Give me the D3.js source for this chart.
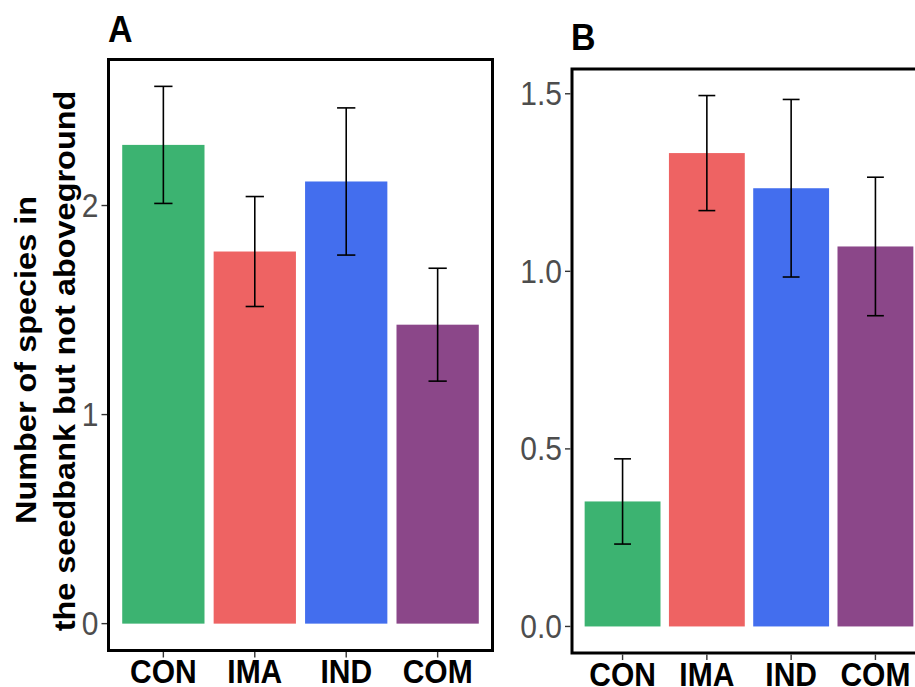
<!DOCTYPE html>
<html>
<head>
<meta charset="utf-8">
<script src="https://cdn.jsdelivr.net/npm/d3@7"></script>
<style>
  html, body { margin: 0; padding: 0; background: #fff; }
  svg { display: block; font-family: "Liberation Sans", Arial, sans-serif; }
</style>
</head>
<body>
<svg id="chart" width="915" height="687"></svg>
<script>
// ---- data ----
const categories = ["CON", "IMA", "IND", "COM"];
const colors = ["#3CB371", "#EE6363", "#436EEE", "#8B4789"];

const meanA = [2.29, 1.78, 2.115, 1.43];
const seA   = [0.28, 0.263, 0.352, 0.27];
const ticksA = [0, 1, 2];
const tickLabelsA = ["0", "1", "2"];

const meanB = [0.352, 1.333, 1.234, 1.07];
const seB   = [0.12, 0.162, 0.25, 0.195];
const ticksB = [0, 0.5, 1.0, 1.5];
const tickLabelsB = ["0.0", "0.5", "1.0", "1.5"];

const yTitle = ["Number of species in", "the seedbank but not aboveground"];

// ---- drawing ----
const svg = d3.select("#chart");
const SY = 1.1; // vertical text stretch seen in the reference

function stretchedText(parent, x, y, str, opts) {
  const g = parent.append("g").attr("transform", `translate(${x},${y}) scale(1,${SY})` + (opts.rotate ? ` rotate(${opts.rotate})` : ""));
  g.append("text")
    .attr("x", 0).attr("y", 0)
    .attr("text-anchor", opts.anchor || "start")
    .attr("font-size", opts.size)
    .attr("font-weight", opts.bold ? "bold" : "normal")
    .attr("fill", opts.fill || "#000")
    .text(str);
  return g;
}

function panel(cfg) {
  const { left, right, top, bottom, means, ses, ticks, tickLabels, label, labelX, labelY } = cfg;
  const g = svg.append("g");

  const x = d3.scaleBand().domain(categories).range([left, right])
    .paddingInner(0.1).paddingOuter(0.15).align(0.5);
  const maxV = d3.max(means.map((m, i) => m + ses[i]));
  const y = d3.scaleLinear().domain([-0.05 * maxV, 1.05 * maxV]).range([bottom, top]);

  // bars
  g.selectAll("rect.bar").data(categories).join("rect")
    .attr("class", "bar")
    .attr("x", d => x(d))
    .attr("width", x.bandwidth())
    .attr("y", (d, i) => y(means[i]))
    .attr("height", (d, i) => y(0) - y(means[i]))
    .attr("fill", (d, i) => colors[i]);

  // error bars
  const capW = x.step() * 0.2;
  const eb = g.selectAll("g.eb").data(categories).join("g").attr("class", "eb")
    .attr("stroke", "#000").attr("stroke-width", 1.6).attr("fill", "none");
  eb.append("line")
    .attr("x1", d => x(d) + x.bandwidth() / 2).attr("x2", d => x(d) + x.bandwidth() / 2)
    .attr("y1", (d, i) => y(means[i] + ses[i])).attr("y2", (d, i) => y(means[i] - ses[i]));
  eb.append("line")
    .attr("x1", d => x(d) + x.bandwidth() / 2 - capW / 2).attr("x2", d => x(d) + x.bandwidth() / 2 + capW / 2)
    .attr("y1", (d, i) => y(means[i] + ses[i])).attr("y2", (d, i) => y(means[i] + ses[i]));
  eb.append("line")
    .attr("x1", d => x(d) + x.bandwidth() / 2 - capW / 2).attr("x2", d => x(d) + x.bandwidth() / 2 + capW / 2)
    .attr("y1", (d, i) => y(means[i] - ses[i])).attr("y2", (d, i) => y(means[i] - ses[i]));

  // frame
  g.append("rect")
    .attr("x", left).attr("y", top)
    .attr("width", right - left).attr("height", bottom - top)
    .attr("fill", "none").attr("stroke", "#000").attr("stroke-width", 3);

  // y ticks
  ticks.forEach((t, i) => {
    g.append("line")
      .attr("x1", left - 7).attr("x2", left - 1.5)
      .attr("y1", y(t)).attr("y2", y(t))
      .attr("stroke", "#333").attr("stroke-width", 1.4);
    stretchedText(g, left - 10, y(t) + 11.5, tickLabels[i], { size: 30, anchor: "end", fill: "#4D4D4D" });
  });

  // x ticks + labels
  categories.forEach(c => {
    const cx = x(c) + x.bandwidth() / 2;
    g.append("line")
      .attr("x1", cx).attr("x2", cx)
      .attr("y1", bottom + 1.5).attr("y2", bottom + 7)
      .attr("stroke", "#333").attr("stroke-width", 1.4);
    stretchedText(g, cx, bottom + 32.5, c, { size: 30, anchor: "middle", bold: true });
  });

  // panel tag
  stretchedText(g, labelX, labelY, label, { size: 34, bold: true });
}

panel({ left: 108.5, right: 492.5, top: 59.5, bottom: 650.5, means: meanA, ses: seA,
        ticks: ticksA, tickLabels: tickLabelsA, label: "A", labelX: 108, labelY: 41.5 });
panel({ left: 572, right: 926, top: 69, bottom: 653, means: meanB, ses: seB,
        ticks: ticksB, tickLabels: tickLabelsB, label: "B", labelX: 571, labelY: 50 });

// y axis title (two lines)
stretchedText(svg, 36, 360, yTitle[0], { size: 29.5, anchor: "middle", bold: true, rotate: -90 });
stretchedText(svg, 75, 361, yTitle[1], { size: 29.5, anchor: "middle", bold: true, rotate: -90 });
</script>
</body>
</html>
